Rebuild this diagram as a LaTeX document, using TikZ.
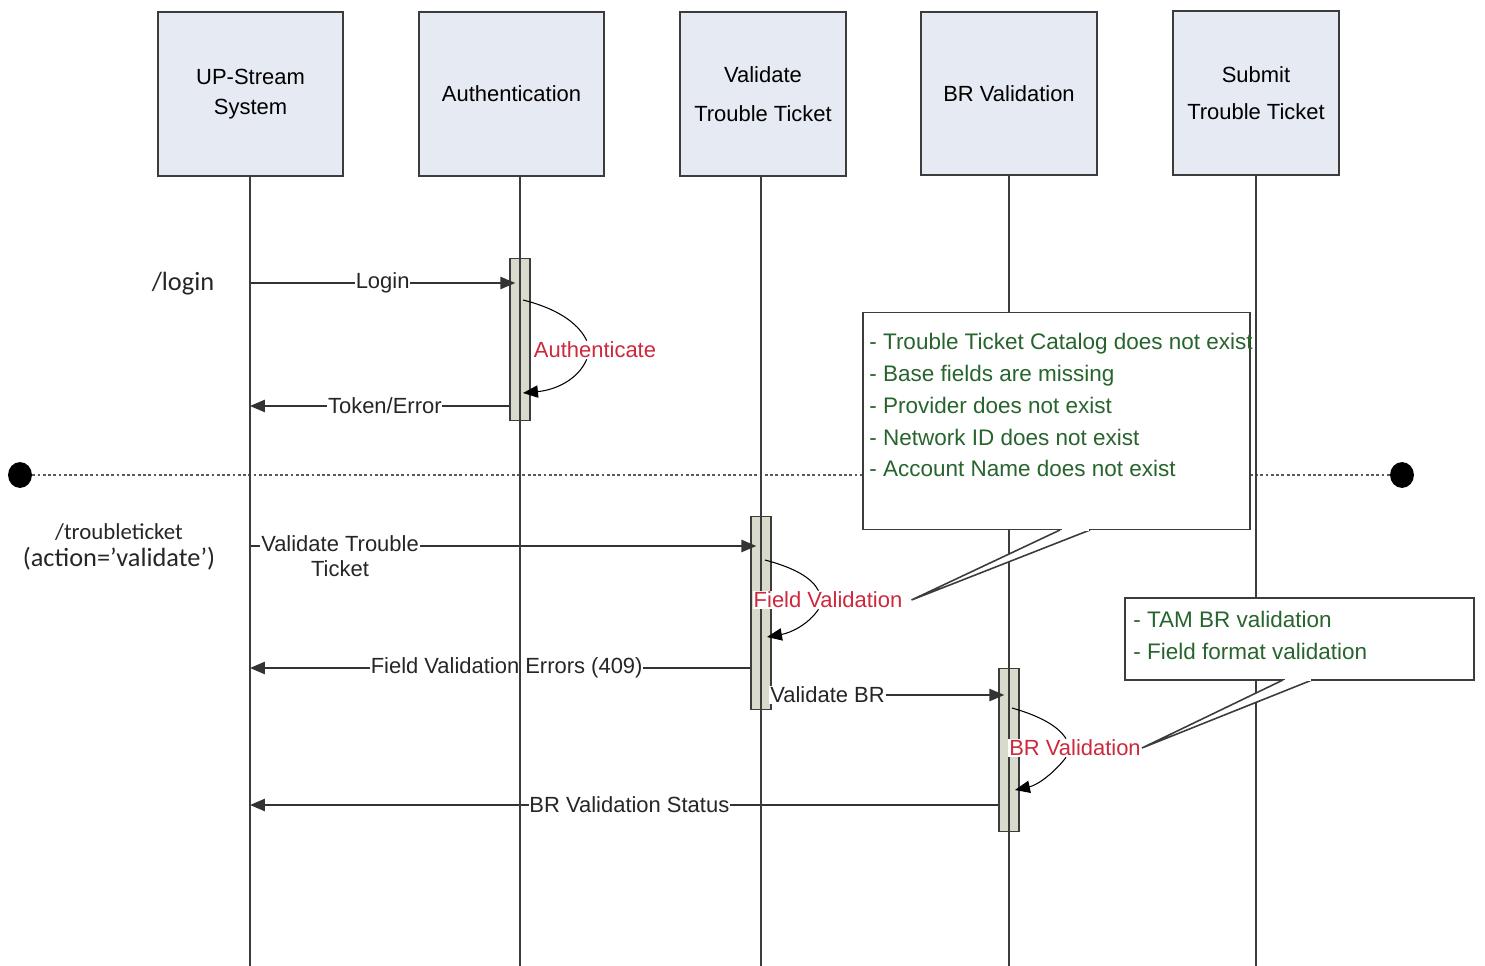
\documentclass[tikz,border=0pt]{standalone}
\usepackage{fontspec}
\setmainfont{Liberation Sans}
\newfontfamily\calfont{Carlito}
\usetikzlibrary{arrows.meta,shapes.geometric,calc}
\definecolor{boxfill}{RGB}{230,234,243}
\definecolor{boxline}{RGB}{60,60,60}
\definecolor{actfill}{RGB}{216,218,204}
\definecolor{selfred}{RGB}{205,40,60}
\definecolor{notegreen}{RGB}{40,100,45}
\tikzset{
 actor/.style={draw=boxline, line width=1.1pt, fill=boxfill, align=center, inner sep=0pt},
 life/.style={draw=boxline, line width=0.9pt},
 actbar/.style={draw=boxline, line width=0.9pt, fill=actfill, minimum width=11.3pt, inner sep=0pt},
 msg/.style={draw=black!80, line width=1pt, -{Triangle[length=8.5pt,width=7pt]}},
 msglabel/.style={fill=white, inner sep=0.5pt, font=\fontsize{12.5}{14.7}\selectfont, text=black!85},
 selfarc/.style={draw=black, line width=0.6pt},
 selfarrow/.style={selfarc, -{Triangle[length=8.5pt,width=7pt]}},
 selflabel/.style={fill=white, inner sep=0.5pt, text=selfred, font=\fontsize{12.5}{15}\selectfont},
 notebox/.style={draw=boxline, line width=1pt, fill=white, inner sep=0pt},
 notetext/.style={text=notegreen, align=left, anchor=north west, inner sep=0pt, font=\fontsize{12.8}{18.1}\selectfont},
 tail/.style={draw=boxline, line width=0.9pt, fill=white, line join=miter},
 sidelabel/.style={text=black!85, align=center, inner sep=0pt},
 endpoint/.style={ellipse, fill=black, inner sep=0pt, minimum width=13.6pt, minimum height=14.7pt},
 separator/.style={draw=black!65, line width=0.8pt, dash pattern=on 1.6pt off 1.4pt},
}
\begin{document}
\begin{tikzpicture}[x=0.02cm,y=-0.02cm]
\useasboundingbox (0,0) rectangle (1485,966);

% actors
\node[actor, minimum width=104.9pt, minimum height=93pt, font=\fontsize{12.5}{17}\selectfont] (up) at (250.5,94) {UP-Stream\\System};
\node[actor, minimum width=104.9pt, minimum height=93pt, font=\fontsize{12.5}{15}\selectfont] (au) at (511.5,94) {Authentication};
\node[actor, minimum width=94.1pt, minimum height=93pt, font=\fontsize{12.5}{22}\selectfont] (vt) at (763,94) {Validate\\Trouble Ticket};
\node[actor, minimum width=99.8pt, minimum height=92.4pt, font=\fontsize{12.5}{15}\selectfont] (br) at (1009,93.5) {BR Validation};
\node[actor, minimum width=94.1pt, minimum height=93pt, font=\fontsize{12.5}{21}\selectfont] (st) at (1256,93) {Submit\\Trouble Ticket};

% separator
\node[endpoint] (d1) at (20,475) {};
\node[endpoint] (d2) at (1402,475) {};
\draw[separator] (d1) -- (d2);

% activation bars
\node[actbar, minimum height=92.4pt] (a1) at (520,339.5) {};
\node[actbar, minimum height=110pt] (a2) at (761,613) {};
\node[actbar, minimum height=93pt] (a3) at (1009,750) {};

% lifeline anchors
\coordinate (upx) at (250,176);

% messages
\coordinate (m1) at (250,283);
\draw[msg] (m1) -- ($(a1.west |- m1)+(6,0)$) node[msglabel, pos=0.5] {Login};
\coordinate (m2) at (250,406);
\draw[msg] (a1.west |- m2) -- (m2) node[msglabel, pos=0.48] {Token/Error};
\coordinate (m3) at (250,546);
\draw[msg] (m3) -- ($(a2.west |- m3)+(6,0)$);
\node[msglabel, align=center, anchor=north] (m3l) at (340,534) {Validate Trouble\\Ticket};
\coordinate (m4) at (250,668);
\draw[msg] (a2.west |- m4) -- (m4) node[msglabel, pos=0.487] {Field Validation Errors (409)};
\coordinate (m5) at (1009,695);
\draw[msg] (a2.east |- m5) -- ($(a3.west |- m5)+(6,0)$) node[msglabel, pos=0.24] {Validate BR};
\coordinate (m6) at (250,805);
\draw[msg] (a3.west |- m6) -- (m6) node[msglabel, pos=0.493] {BR Validation Status};

% lifelines
\draw[life] (up.south -| upx) -- (upx |- 0,966);
\draw[life] (au.south -| a1) -- (a1 |- 0,966);
\draw[life] (vt.south -| a2) -- (a2 |- 0,966);
\draw[life] (br.south -| a3) -- (a3 |- 0,966);
\draw[life] (st.south) -- (st.south |- 0,966);

% self calls
\node[selflabel] (auself) at (595,350) {Authenticate};
\draw[selfarc] (523,300) .. controls (555,308) and (578,322) .. ($(auself.north west)+(54,0)$);
\draw[selfarrow] ($(auself.south west)+(54,0)$) .. controls (578,380) and (555,390) .. (523,393);

\node[selflabel] (fvself) at (828,600) {Field Validation};
\draw[selfarc] (765,560) .. controls (795,568) and (812,578) .. ($(fvself.north west)+(66,0)$);
\draw[selfarrow] ($(fvself.south west)+(66,0)$) .. controls (808,625) and (790,633) .. (767,637);

\node[selflabel] (brself) at (1075,748) {BR Validation};
\draw[selfarc] (1012,708) .. controls (1040,716) and (1058,726) .. ($(brself.north west)+(58,0)$);
\draw[selfarrow] ($(brself.south west)+(58,0)$) .. controls (1055,772) and (1038,785) .. (1015,790);

% left labels
\node[sidelabel, font=\calfont\fontsize{15}{15}\selectfont] (loginl) at (183,284) {/login};
\node[sidelabel, font=\calfont\fontsize{15}{15.5}\selectfont] (ttl) at (119,547) {{\fontsize{13}{15}\selectfont /troubleticket}\\(action=’validate’)};

% note 1
\node[notebox, minimum width=220.5pt, minimum height=123.6pt] (n1) at (1056.5,421) {};
\draw[tail] (1060,530) -- ($(fvself.east)+(8,0)$) -- (1090,530);
\draw[white, line width=1.4pt] (1061.5,530) -- (1088.5,530);
\node[notetext] (n1t) at (869,333) {- Trouble Ticket Catalog does not exist\\- Base fields are missing\\- Provider does not exist\\- Network ID does not exist\\- Account Name does not exist};

% note 2
\node[notebox, minimum width=199pt, minimum height=46.5pt] (n2) at (1299.5,639) {};
\draw[tail] (1283,680) -- (brself.east) -- (1312,680);
\draw[white, line width=1.4pt] (1284.5,680) -- (1310.5,680);
\node[notetext] (n2t) at (1133,611) {- TAM BR validation\\- Field format validation};
\end{tikzpicture}
\end{document}
